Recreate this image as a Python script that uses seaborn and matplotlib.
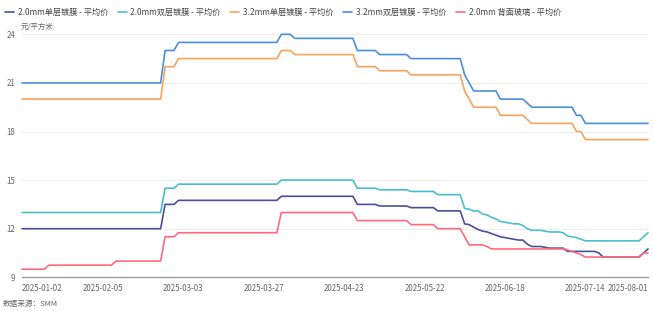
import matplotlib
matplotlib.use("Agg")
import matplotlib.pyplot as plt
import seaborn as sns
import pandas as pd

# ---- data (one value per trading day, 2025-01-02 .. 2025-08-01) ----
tick_pos = [0, 18, 36, 54, 72, 90, 108, 126, 140]
tick_labels = ["2025-01-02", "2025-02-05", "2025-03-03", "2025-03-27", "2025-04-23",
               "2025-05-22", "2025-06-18", "2025-07-14", "2025-08-01"]

series_names = ["2.0mm单层镀膜 - 平均价", "2.0mm双层镀膜 - 平均价", "3.2mm单层镀膜 - 平均价",
                "3.2mm双层镀膜 - 平均价", "2.0mm 背面玻璃 - 平均价"]
colors = ["#4b4f9c", "#4bbdd1", "#f7a35c", "#4a8fdc", "#ff6b7b"]

s20_single = ([12.0] * 32 + [13.5] * 3 + [13.75] * 23 + [14.0] * 17 + [13.5] * 5 + [13.4] * 7 +
              [13.3] * 6 + [13.1] * 6 +
              [12.3, 12.25, 12.1, 11.95, 11.85, 11.8, 11.7, 11.6, 11.5, 11.45, 11.4, 11.35, 11.3, 11.3,
               11.05, 10.9, 10.9, 10.9, 10.85, 10.8, 10.8, 10.8, 10.8] +
              [10.6] * 7 + [10.5] + [10.25] * 9 + [10.5, 10.75])
s20_double = ([13.0] * 32 + [14.5] * 3 + [14.75] * 23 + [15.0] * 17 + [14.5] * 5 + [14.4] * 7 +
              [14.3] * 6 + [14.1] * 6 +
              [13.25, 13.2, 13.1, 13.1, 12.9, 12.85, 12.7, 12.6, 12.45, 12.4, 12.35, 12.3, 12.3, 12.2,
               12.0, 11.9, 11.9, 11.9, 11.85, 11.8, 11.8, 11.8, 11.75, 11.55, 11.5, 11.45, 11.35] +
              [11.25] * 13 + [11.5, 11.75])
s32_double = ([21.0] * 32 + [23.0] * 3 + [23.5] * 23 + [24.0] * 3 + [23.75] * 14 + [23.0] * 5 +
              [22.75] * 7 + [22.5] * 12 + [21.5, 21.0] + [20.5] * 6 + [20.0] * 6 + [19.75] +
              [19.5] * 10 + [19.0] * 2 + [18.5] * 15)
s32_single = ([20.0] * 32 + [22.0] * 3 + [22.5] * 23 + [23.0] * 3 + [22.75] * 14 + [22.0] * 5 +
              [21.75] * 7 + [21.5] * 12 + [20.5, 20.0] + [19.5] * 6 + [19.0] * 6 + [18.75] +
              [18.5] * 10 + [18.0] * 2 + [17.5] * 15)
s20_back = ([9.5] * 6 + [9.75] * 15 + [10.0] * 11 + [11.5] * 3 + [11.75] * 23 + [13.0] * 17 +
            [12.5] * 12 + [12.25] * 6 + [12.0] * 6 + [11.5] + [11.0] * 4 + [10.9] +
            [10.75] * 17 + [10.7, 10.6, 10.5, 10.4] + [10.25] * 13 + [10.5, 10.5])

all_series = [s20_single, s20_double, s32_single, s32_double, s20_back]

frames = []
for name, vals in zip(series_names, all_series):
    frames.append(pd.DataFrame({"idx": range(len(vals)), "price": vals, "series": name}))
df = pd.concat(frames, ignore_index=True)

sns.set_theme(style="white")
plt.rcParams["font.family"] = ["Noto Sans CJK SC", "DejaVu Sans"]

fig = plt.figure(figsize=(6.54, 3.11), dpi=100)
ax = fig.add_axes([22 / 654, 1 - 277.3 / 311, 626 / 654, (277.3 - 34.3) / 311])

sns.lineplot(data=df, x="idx", y="price", hue="series", hue_order=series_names,
             palette=colors, linewidth=1.2, ax=ax, legend=True, clip_on=False)

ax.set_xlim(0, 140)
ax.set_ylim(9, 24)
ax.set_yticks([9, 12, 15, 18, 21, 24])
ax.set_yticklabels(["9", "12", "15", "18", "21", "24"])
ax.set_xticks(tick_pos)
ax.set_xticklabels(tick_labels)
for i, lab in enumerate(ax.get_xticklabels()):
    if i == 0:
        lab.set_ha("left")
    elif i == len(tick_pos) - 1:
        lab.set_ha("right")
ax.tick_params(axis="both", length=0, labelsize=5.7, colors="#666666")
ax.tick_params(axis="x", pad=5)
ax.tick_params(axis="y", pad=5)
ax.grid(axis="y", color="#eeeeee", linewidth=0.8)
ax.set_axisbelow(True)
for s in ["top", "right", "left"]:
    ax.spines[s].set_visible(False)
ax.spines["bottom"].set_color("#9a9ea8")
ax.spines["bottom"].set_linewidth(1.0)
ax.set_xlabel("")
ax.set_ylabel("")

handles, labels = ax.get_legend_handles_labels()
ax.legend_.remove()
fig.legend(handles, labels, loc="center left", bbox_to_anchor=(0.0, 1 - 12 / 311), ncol=5, frameon=False,
           fontsize=5.9, handlelength=1.1, handletextpad=0.45, columnspacing=1.2,
           labelcolor="#444444", borderaxespad=0.2)

fig.text(21 / 654, 1 - 27 / 311, "元/平方米", fontsize=5.4, color="#666666", va="center", ha="left")
fig.text(3 / 654, 1 - 304 / 311, "数据来源：SMM", fontsize=5.5, color="#666666", va="center", ha="left")

fig.savefig("out.png", dpi=100)
